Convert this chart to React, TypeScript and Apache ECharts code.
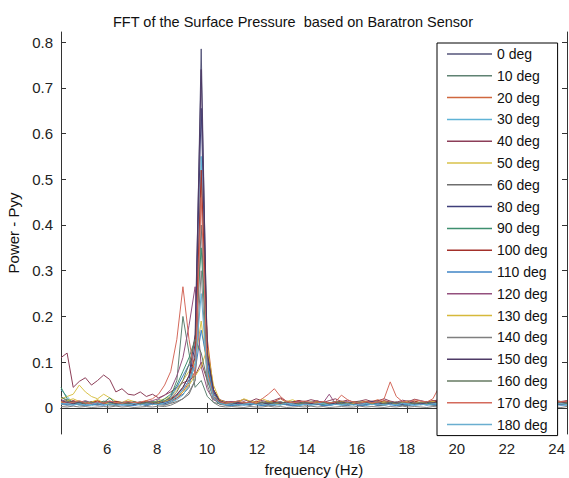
import React, { useEffect, useRef } from "react";
import * as echarts from "echarts";

// FFT bins: k * fs/N, fs = 250 Hz, N = 1024, k = 17..100
const binStep = 250 / 1024;
const freqs: number[] = Array.from({ length: 84 }, (_, i) => (i + 17) * binStep);

const xTicks = [6, 8, 10, 12, 14, 16, 18, 20, 22, 24];
const yTicks = [0, 0.1, 0.2, 0.3, 0.4, 0.5, 0.6, 0.7, 0.8];

const angles = ["0 deg", "10 deg", "20 deg", "30 deg", "40 deg", "50 deg", "60 deg", "80 deg", "90 deg",
  "100 deg", "110 deg", "120 deg", "130 deg", "140 deg", "150 deg", "160 deg", "170 deg", "180 deg"];

// Power values in thousandths (Pyy x 1000)
const p0 = [15,10,8,12,9,14,10,7,11,9, 8,12,10,7,9,13,11,10,15,22, 30,45,120,785,90,30,14,10,8,11, 9,7,10,12,8,9,11,7,10,8, 9,11,8,10,7,12,9,8,10,11, 8,9,12,10,7,9,11,13,9,8, 10,12,9,14,11,8,10,9,12,10, 9,11,8,10,12,9,10,8,11,9, 10,12,9,11];
const p10 = [22,18,12,9,14,11,8,13,10,7, 9,12,8,11,14,10,18,15,25,60, 200,120,45,60,25,12,9,11,7,10, 13,9,8,12,10,7,11,9,14,10, 8,12,9,7,10,13,8,11,9,10, 12,8,10,14,9,7,11,10,8,12, 9,13,10,8,11,9,12,10,7,9, 11,10,8,13,9,12,10,8,11,9, 10,8,12,9];
const p20 = [12,9,14,10,8,11,16,9,7,12, 10,8,13,9,11,7,10,14,12,20, 35,55,80,500,150,40,15,9,12,10, 8,13,11,9,10,14,20,12,9,11, 10,8,12,9,11,13,10,8,9,12, 11,14,18,10,9,12,8,11,10,13, 9,12,14,10,8,11,13,9,12,10, 14,11,9,12,10,13,8,11,12,10, 9,13,11,10];
const p30 = [40,25,10,6,8,5,9,7,6,10, 8,5,7,9,6,8,10,7,12,18, 28,50,100,550,120,35,12,6,5,8, 7,6,9,5,7,8,6,10,7,5, 8,6,7,9,5,8,6,7,10,6, 5,8,7,6,9,7,5,8,6,7, 9,6,8,5,7,10,6,8,7,5, 9,6,8,7,6,10,8,5,7,9, 6,8,7,6];
const p40 = [110,120,45,58,66,50,60,72,62,35, 42,30,28,35,25,30,22,28,35,45, 55,60,70,100,60,30,18,14,12,15, 18,14,20,16,13,17,22,15,12,16, 14,18,15,12,16,20,14,17,13,15, 18,14,16,20,15,12,17,14,19,16, 13,15,18,14,16,12,17,15,19,14, 16,13,18,15,14,17,20,16,14,18, 15,17,14,16];
const p50 = [20,25,30,50,35,25,20,30,22,15, 12,18,14,10,16,12,15,20,25,40, 60,80,100,190,80,30,15,12,10,14, 11,9,13,20,15,12,10,14,18,12, 10,13,15,11,9,12,14,10,13,11, 15,12,10,14,11,13,9,12,15,11, 14,10,12,13,11,9,14,12,10,13, 11,15,12,10,14,11,13,12,10,14, 12,11,13,10];
const p60 = [8,6,9,7,5,8,6,10,7,5, 8,6,7,9,5,8,7,6,10,14, 20,30,60,400,70,20,8,6,7,5, 8,6,9,7,5,6,8,7,5,9, 6,7,8,5,6,9,7,5,8,6, 7,9,5,6,8,7,6,5,9,7, 8,6,5,7,9,6,8,7,5,6, 8,9,6,7,5,8,6,7,9,5, 7,6,8,7];
const p80 = [12,10,15,11,9,13,10,8,12,14, 10,9,11,13,8,10,12,9,15,25, 40,60,140,655,110,35,15,10,12,9, 11,8,10,13,9,12,10,8,11,14, 10,9,12,11,8,10,13,9,11,10, 12,8,10,11,9,13,10,12,8,11, 10,9,12,14,10,8,11,13,9,10, 12,11,9,10,13,8,12,10,11,9, 13,10,11,12];
const p90 = [45,20,12,9,14,10,8,12,22,10, 8,11,9,13,10,14,12,20,30,50, 80,110,150,350,90,25,12,8,10,7, 9,11,8,10,12,9,7,11,10,8, 12,9,10,8,11,14,9,10,7,12, 10,8,11,9,13,10,8,9,12,10, 11,8,10,13,9,12,10,8,11,9, 10,12,8,11,10,9,13,10,8,11, 10,9,12,10];
const p100 = [14,11,16,12,10,13,15,11,9,14, 12,10,13,11,15,12,10,14,20,30, 45,70,110,520,130,40,18,12,14,11, 13,10,15,12,11,14,12,10,13,16, 12,11,14,13,10,12,15,11,13,12, 14,11,12,16,13,10,14,12,15,11, 13,16,12,14,11,13,15,12,14,16, 12,13,15,11,14,12,16,13,12,15, 13,14,12,15];
const p110 = [10,7,6,9,5,8,7,6,9,8, 6,7,5,8,6,9,7,12,25,45, 70,95,80,170,100,30,12,7,5,8, 6,9,7,5,8,6,10,7,5,6, 8,7,9,5,6,8,7,6,9,5, 7,8,6,9,7,5,8,6,7,9, 6,8,5,7,6,9,8,6,7,5, 8,7,9,6,5,8,7,6,9,7, 5,8,6,7];
const p120 = [18,14,10,12,16,11,9,13,15,10, 12,14,11,9,13,16,20,28,40,70, 110,180,265,90,40,18,12,10,14,11, 9,13,12,10,15,11,13,9,12,14, 10,12,16,11,30,9,12,14,10,13, 11,15,12,10,14,11,13,16,12,10, 14,11,13,12,15,10,12,14,11,13, 10,14,12,16,11,13,10,12,15,11, 14,12,10,13];
const p130 = [12,16,20,14,10,13,18,11,9,12, 10,14,11,9,13,10,12,15,18,25, 35,50,70,90,130,50,18,12,10,13, 20,15,12,10,14,11,9,13,12,10, 14,11,13,10,12,9,14,11,10,13, 12,10,14,11,13,9,12,15,10,12, 11,14,10,12,13,11,9,12,14,10, 13,11,12,10,14,12,11,13,10,12, 11,14,10,12];
const p140 = [3,2,4,2,3,1,2,3,2,4, 2,3,1,2,3,2,4,3,6,12, 20,35,60,300,50,12,4,2,3,2, 1,3,2,2,4,2,3,1,2,3, 2,4,2,3,1,2,3,2,2,4, 2,3,2,1,3,2,4,2,3,2, 1,3,2,4,2,3,2,1,3,2, 2,4,3,2,1,3,2,2,4,2, 3,2,1,3];
const p150 = [16,12,9,13,11,8,12,10,14,9, 11,13,8,10,12,9,14,11,18,28, 45,70,160,740,120,40,16,11,9,12, 10,14,9,11,8,12,10,13,9,11, 14,10,8,12,11,9,13,10,12,8, 11,14,9,10,12,11,8,13,10,9, 12,11,14,9,10,12,8,11,13,10, 9,12,11,10,14,9,12,10,11,13, 10,9,12,11];
const p160 = [25,15,11,14,9,12,10,15,11,8, 12,10,14,9,11,13,10,16,22,35, 60,95,150,120,60,22,12,9,11,14, 10,12,9,13,11,10,14,9,12,10, 11,13,9,12,10,14,11,9,12,13, 10,11,14,9,12,10,13,11,9,12, 14,10,11,13,9,12,10,14,11,10, 12,9,13,11,10,12,14,9,11,13, 10,12,11,9];
const p170 = [14,10,12,16,11,9,13,10,15,12, 10,14,11,13,16,20,30,50,80,150, 265,150,70,460,80,25,14,10,12,15, 11,13,10,20,30,42,25,14,11,13, 15,12,10,14,11,13,28,18,12,10, 14,11,13,20,57,25,14,12,18,15, 13,20,45,18,14,12,16,13,11,15, 14,12,16,13,11,14,12,15,13,16, 12,14,13,15];
const p180 = [8,10,7,9,6,8,11,7,9,6, 8,7,10,6,9,8,7,11,15,25, 40,60,90,250,70,22,10,7,9,6, 8,10,7,9,6,8,7,10,9,6, 8,7,9,10,6,8,7,9,6,8, 10,7,9,6,8,7,10,9,6,8, 7,9,10,6,8,7,9,6,10,8, 7,9,6,8,10,7,9,8,6,7, 9,8,10,7];

const seriesValues = [p0, p10, p20, p30, p40, p50, p60, p80, p90, p100, p110, p120, p130, p140, p150, p160, p170, p180];

const colors = ["#55557a", "#5f8272", "#d0673e", "#5fb3d6", "#8c3e58", "#d9c24a", "#6e6e6e", "#3f3f7a", "#3f8f6f",
  "#a3302a", "#3f84c6", "#94507e", "#d6b93a", "#7f7f7f", "#4e3a66", "#667a62", "#d46a5c", "#6aaed0"];

const FONT = "'Liberation Sans', Arial, Helvetica, sans-serif";
const AXIS = "#333";

export default function App() {
  const ref = useRef<HTMLDivElement>(null);
  useEffect(() => {
    if (!ref.current) return;
    const chart = echarts.init(ref.current, undefined, { renderer: "svg" });
    const series = angles.map((name, s) => ({
      name,
      type: "line",
      symbol: "none",
      showSymbol: false,
      silent: true,
      data: freqs.map((f, i) => [f, seriesValues[s][i] / 1000]),
      lineStyle: { width: 1, color: colors[s] },
      itemStyle: { color: colors[s] },
    }));
    const tickCommon = { inside: true, length: 5, lineStyle: { color: AXIS } };
    chart.setOption({
      animation: false,
      backgroundColor: "#fff",
      title: {
        text: "FFT of the Surface Pressure  based on Baratron Sensor",
        left: 288,
        top: 9,
        textAlign: "center",
        textStyle: { fontFamily: FONT, fontSize: 14.5, fontWeight: "normal", color: "#111" },
      },
      grid: { left: 61, right: 2, top: 32, bottom: 44, containLabel: false, outerBoundsMode: "none" },
      legend: {
        orient: "vertical",
        left: 437,
        top: 43,
        icon: "rect",
        itemWidth: 45,
        itemHeight: 1.5,
        itemGap: 7.8,
        padding: [4, 10, 4, 10],
        borderColor: "#000",
        borderWidth: 1,
        backgroundColor: "#fff",
        textStyle: { fontFamily: FONT, fontSize: 14, lineHeight: 14, color: "#111" },
        data: angles,
      },
      xAxis: [
        {
          type: "value",
          min: freqs[0],
          max: freqs[freqs.length - 1],
          name: "frequency (Hz)",
          nameLocation: "middle",
          nameGap: 28,
          nameTextStyle: { fontFamily: FONT, fontSize: 15, color: "#111" },
          axisLine: { show: true, lineStyle: { color: AXIS } },
          axisTick: { ...tickCommon, customValues: xTicks },
          axisLabel: { customValues: xTicks, fontFamily: FONT, fontSize: 15, color: "#222", margin: 7 },
          splitLine: { show: false },
        },
        {
          type: "value",
          position: "top",
          min: freqs[0],
          max: freqs[freqs.length - 1],
          axisLine: { show: true, lineStyle: { color: AXIS } },
          axisTick: { ...tickCommon, customValues: xTicks },
          axisLabel: { show: false },
          splitLine: { show: false },
        },
      ],
      yAxis: [
        {
          type: "value",
          min: -0.057,
          max: 0.822,
          name: "Power - Pyy",
          nameLocation: "middle",
          nameGap: 40,
          nameRotate: 90,
          nameTextStyle: { fontFamily: FONT, fontSize: 15, color: "#111" },
          axisLine: { show: true, lineStyle: { color: AXIS } },
          axisTick: { ...tickCommon, customValues: yTicks },
          axisLabel: { customValues: yTicks, fontFamily: FONT, fontSize: 15, color: "#222", margin: 8,
            formatter: (v: number) => String(Math.round(v * 10) / 10) },
          splitLine: { show: false },
        },
        {
          type: "value",
          position: "right",
          min: -0.057,
          max: 0.822,
          axisLine: { show: true, lineStyle: { color: AXIS } },
          axisTick: { ...tickCommon, customValues: yTicks },
          axisLabel: { show: false },
          splitLine: { show: false },
        },
      ],
      series,
    });
    return () => chart.dispose();
  }, []);
  return <div ref={ref} style={{ width: 569, height: 478, position: "absolute", left: 0, top: 0 }} />;
}
